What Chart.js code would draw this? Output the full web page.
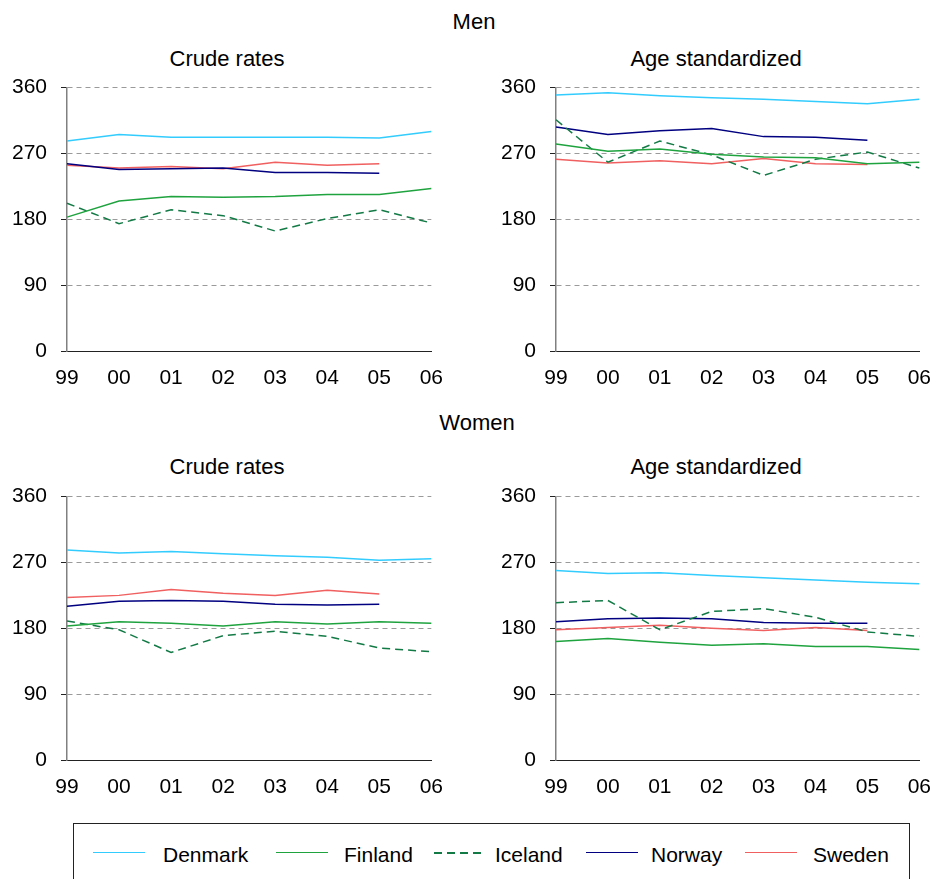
<!DOCTYPE html>
<html>
<head>
<meta charset="utf-8">
<script src="https://cdn.jsdelivr.net/npm/chart.js@4.4.1/dist/chart.umd.min.js"></script>
<style>
  html, body { margin: 0; padding: 0; background: #fff; }
  body { width: 935px; height: 879px; position: relative; overflow: hidden;
         font-family: "Liberation Sans", Arial, sans-serif; color: #000; }
  canvas { position: absolute; }
  .t { position: absolute; font-size: 22px; line-height: 22px; white-space: nowrap;
       transform: translateX(-50%); }
  #legend { position: absolute; left: 73px; top: 823px; width: 837px; height: 80px;
            border: 1px solid #222; box-sizing: border-box; }
  .li { position: absolute; top: 28px; height: 0; border-top: 2px solid; }
  .ld { position: absolute; top: 28px; height: 1.5px; }
  .lt { position: absolute; top: 20px; font-size: 21px; line-height: 21px; white-space: nowrap; }
</style>
</head>
<body>
<div class="t" style="left:474px; top:11px;">Men</div>
<div class="t" style="left:227px; top:48px;">Crude rates</div>
<div class="t" style="left:716px; top:48px;">Age standardized</div>
<div class="t" style="left:477px; top:412px;">Women</div>
<div class="t" style="left:227px; top:456px;">Crude rates</div>
<div class="t" style="left:716px; top:456px;">Age standardized</div>

<canvas id="c1" width="458" height="330" style="left:0px; top:61px;"></canvas>
<canvas id="c2" width="457" height="330" style="left:489px; top:61px;"></canvas>
<canvas id="c3" width="458" height="330" style="left:0px; top:470px;"></canvas>
<canvas id="c4" width="457" height="330" style="left:489px; top:470px;"></canvas>

<div id="legend"></div>

<script>
// ---- Data ----
const years = ['99','00','01','02','03','04','05','06'];
const countries = ['Denmark','Finland','Iceland','Norway','Sweden'];
const yTicks = [0, 90, 180, 270, 360];

// Men, crude rates
const menCrudeDenmark = [287, 296, 292, 292, 292, 292, 291, 300];
const menCrudeFinland = [183, 205, 211, 210, 211, 214, 214, 222];
const menCrudeIceland = [202, 174, 193, 185, 164, 181, 193, 175];
const menCrudeNorway  = [256, 248, 249, 250, 244, 244, 243, null];
const menCrudeSweden  = [254, 250, 252, 249, 258, 254, 256, null];

// Men, age standardized
const menAgeDenmark = [350, 353, 349, 346, 344, 341, 338, 344];
const menAgeFinland = [283, 273, 276, 269, 265, 264, 256, 258];
const menAgeIceland = [316, 258, 287, 268, 240, 262, 272, 250];
const menAgeNorway  = [306, 296, 301, 304, 293, 292, 288, null];
const menAgeSweden  = [262, 257, 260, 256, 263, 256, 255, null];

// Women, crude rates
const womenCrudeDenmark = [287, 283, 285, 282, 279, 277, 273, 275];
const womenCrudeFinland = [183, 189, 187, 183, 189, 186, 189, 187];
const womenCrudeIceland = [190, 178, 147, 170, 176, 169, 153, 148];
const womenCrudeNorway  = [210, 217, 218, 217, 213, 212, 213, null];
const womenCrudeSweden  = [222, 225, 233, 228, 225, 232, 227, null];

// Women, age standardized
const womenAgeDenmark = [259, 255, 256, 252, 249, 246, 243, 241];
const womenAgeFinland = [162, 166, 161, 157, 159, 155, 155, 151];
const womenAgeIceland = [215, 218, 178, 203, 207, 195, 175, 169];
const womenAgeNorway  = [189, 193, 194, 193, 188, 187, 187, null];
const womenAgeSweden  = [178, 181, 184, 180, 177, 181, 177, null];

// ---- Styles ----
const colors = {
  Denmark: '#33CCFF',
  Finland: '#1FA33F',
  Iceland: '#127A45',
  Norway:  '#000080',
  Sweden:  '#F06060'
};
const dashes = { Denmark: [], Finland: [], Iceland: [8, 5], Norway: [], Sweden: [] };

Chart.defaults.font.family = '"Liberation Sans", Arial, sans-serif';
Chart.defaults.font.size = 21;
Chart.defaults.color = '#000';

function makeChart(id, series, padRight) {
  const datasets = countries.map((name, i) => ({
    label: name,
    data: series[i],
    borderColor: colors[name],
    backgroundColor: colors[name],
    borderWidth: 1.5,
    borderDash: dashes[name],
    pointRadius: 0,
    tension: 0,
    fill: false,
    spanGaps: false
  }));
  return new Chart(document.getElementById(id), {
    type: 'line',
    data: { labels: years, datasets },
    options: {
      responsive: false,
      animation: false,
      devicePixelRatio: 1,
      layout: { padding: { left: 0, right: padRight, top: 15, bottom: 0 } },
      plugins: { legend: { display: false }, tooltip: { enabled: false }, title: { display: false } },
      scales: {
        x: {
          type: 'category',
          offset: false,
          grid: { display: false, drawTicks: false },
          border: { display: true, color: '#222', width: 1 },
          ticks: { padding: 15, maxRotation: 0, autoSkip: false, color: '#000' },
          afterFit: (s) => { s.height = 40; }
        },
        y: {
          min: 0, max: 360,
          afterBuildTicks: (s) => { s.ticks = yTicks.map(v => ({ value: v })); },
          grid: {
            color: (c) => (c.tick && c.tick.value === 0) ? 'rgba(0,0,0,0)' : '#9a9a9a',
            lineWidth: 1,
            drawTicks: true,
            tickLength: 6,
            tickColor: '#222',
            tickWidth: 1,
            tickBorderDash: []
          },
          border: { display: true, color: '#808080', width: 1.5, dash: [5, 4] },
          ticks: { padding: 14, color: '#000' },
          afterFit: (s) => { s.width = 67; }
        }
      }
    }
  });
}

makeChart('c1', [menCrudeDenmark, menCrudeFinland, menCrudeIceland, menCrudeNorway, menCrudeSweden], 24);
makeChart('c2', [menAgeDenmark, menAgeFinland, menAgeIceland, menAgeNorway, menAgeSweden], 16);
makeChart('c3', [womenCrudeDenmark, womenCrudeFinland, womenCrudeIceland, womenCrudeNorway, womenCrudeSweden], 24);
makeChart('c4', [womenAgeDenmark, womenAgeFinland, womenAgeIceland, womenAgeNorway, womenAgeSweden], 16);

// ---- Legend (HTML) ----
const legendLineX = [93, 276, 434, 586, 745];
const legendTextX = [163, 344, 495, 651, 813];
const legend = document.getElementById('legend');
countries.forEach((name, i) => {
  const ln = document.createElement('div');
  if (name === 'Iceland') {
    ln.className = 'ld';
    ln.style.width = '47px';
    ln.style.background = 'repeating-linear-gradient(to right, ' + colors[name] + ' 0 8px, transparent 8px 13px)';
  } else {
    ln.className = 'li';
    ln.style.width = '52px';
    ln.style.borderTopColor = colors[name];
    ln.style.borderTopWidth = '1.5px';
  }
  ln.style.left = (legendLineX[i] - 74) + 'px';
  legend.appendChild(ln);
  const tx = document.createElement('div');
  tx.className = 'lt';
  tx.style.left = (legendTextX[i] - 74) + 'px';
  tx.textContent = name;
  legend.appendChild(tx);
});
</script>
</body>
</html>
